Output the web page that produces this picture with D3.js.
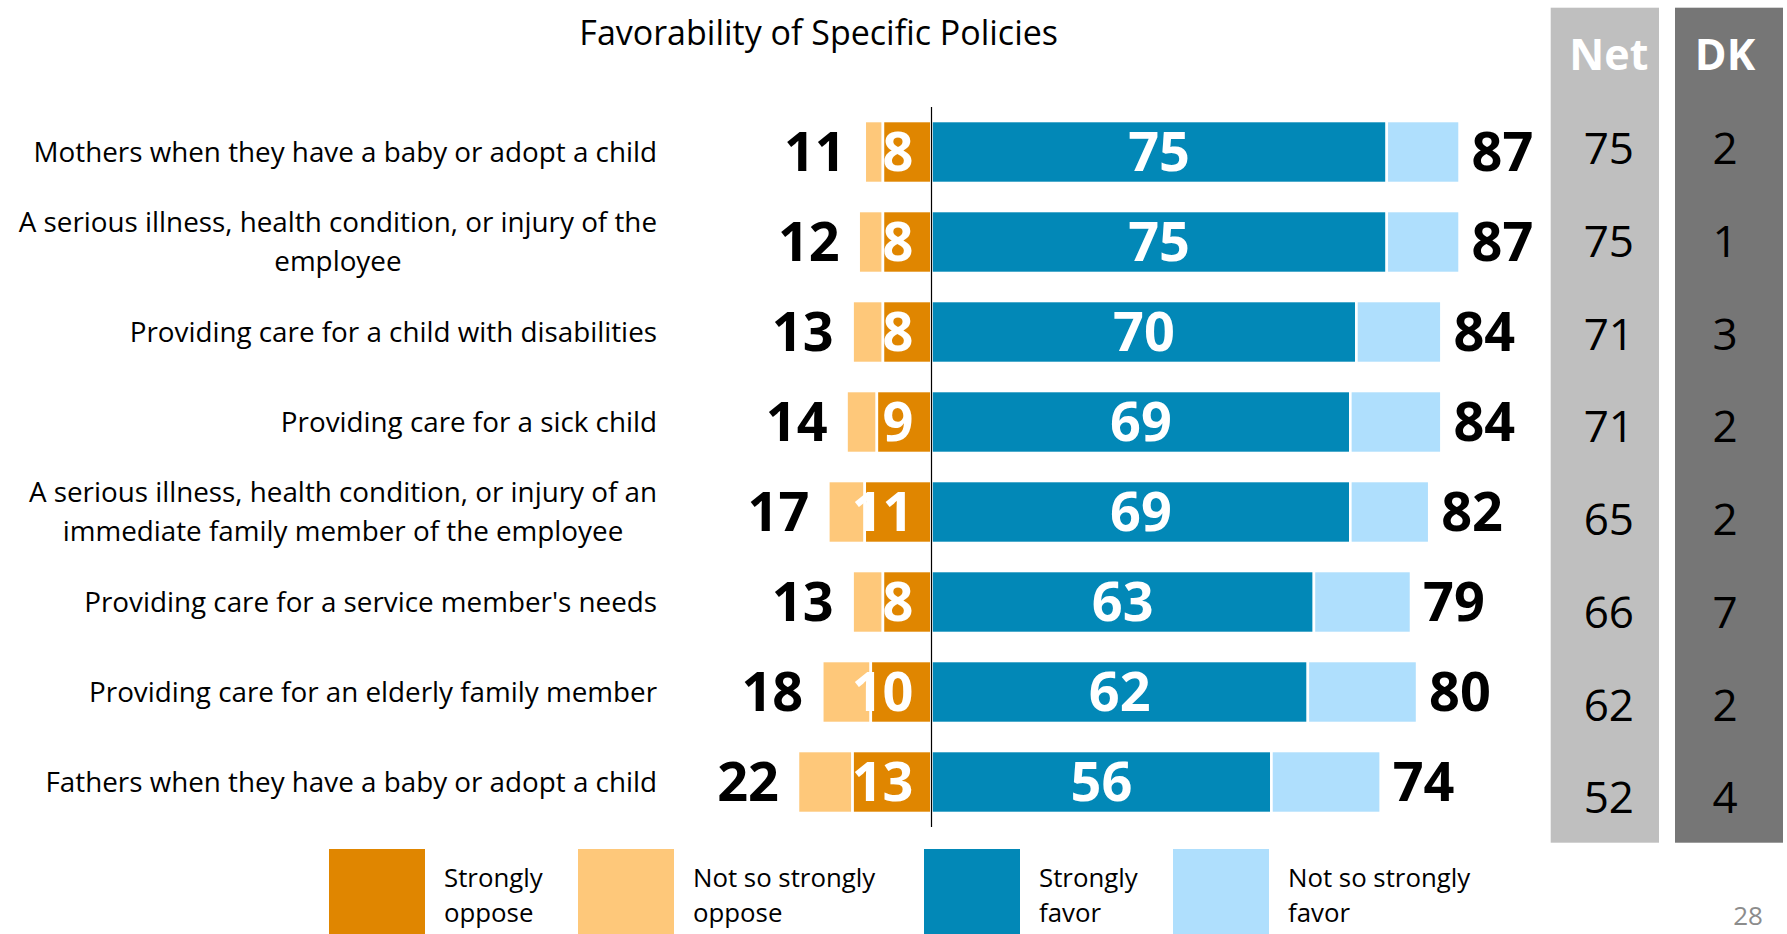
<!DOCTYPE html>
<html>
<head>
<meta charset="utf-8">
<script src="https://cdn.jsdelivr.net/npm/d3@7"></script>
<style>
  body { margin: 0; background: #fff; }
  svg { display: block; }
  text { font-family: "Open Sans", "Noto Sans", sans-serif; }
</style>
</head>
<body>
<svg id="chart" width="1787" height="934"></svg>
<script>
// Survey items (line breaks mark where the label wraps)
const categories = [
  "Mothers when they have a baby or adopt a child",
  "A serious illness, health condition, or injury of the\nemployee",
  "Providing care for a child with disabilities",
  "Providing care for a sick child",
  "A serious illness, health condition, or injury of an\nimmediate family member of the employee",
  "Providing care for a service member's needs",
  "Providing care for an elderly family member",
  "Fathers when they have a baby or adopt a child"
];

// Percentages per item
const stronglyOppose = [8, 8, 8, 9, 11, 8, 10, 13];
const notSoOppose    = [3, 4, 5, 5, 6, 5, 8, 9];
const stronglyFavor  = [75, 75, 70, 69, 69, 63, 62, 56];
const notSoFavor     = [12, 12, 14, 15, 13, 16, 18, 18];
const totalOppose    = [11, 12, 13, 14, 17, 13, 18, 22];
const totalFavor     = [87, 87, 84, 84, 82, 79, 80, 74];
const netValues      = [75, 75, 71, 71, 65, 66, 62, 52];
const dkValues       = [2, 1, 3, 2, 2, 7, 2, 4];

const legendLabels = ["Strongly\noppose", "Not so strongly\noppose", "Strongly\nfavor", "Not so strongly\nfavor"];
const titleText = "Favorability of Specific Policies";
const pageNumber = "28";

const colors = {
  strongOppose: "#E08600",
  softOppose: "#FEC87A",
  strongFavor: "#0288B7",
  softFavor: "#AFDFFD"
};
const legendColors = [colors.strongOppose, colors.softOppose, colors.strongFavor, colors.softFavor];

const svg = d3.select("#chart");

// Scales
const x = d3.scaleLinear().domain([-25, 90]).range([779.75, 1477.8]);
const y = d3.scaleBand().domain(categories).range([107, 827])
  .paddingInner(0.311).paddingOuter(0.1555);
const yTable = d3.scalePoint().domain(categories).range([148.5, 797.5]);

// Title
svg.append("text")
  .attr("x", 818.7).attr("y", 44.5)
  .attr("text-anchor", "middle")
  .attr("font-size", 34)
  .attr("fill", "#000")
  .text(titleText);

// Net / DK columns
const tableCols = [
  { key: "Net", values: netValues, x0: 1550.7, x1: 1659, fill: "#BFBFBF" },
  { key: "DK", values: dkValues, x0: 1675, x1: 1783, fill: "#767676" }
];
tableCols.forEach(col => {
  const cx = (col.x0 + col.x1) / 2;
  svg.append("rect")
    .attr("x", col.x0).attr("y", 7.7)
    .attr("width", col.x1 - col.x0).attr("height", 842.7 - 7.7)
    .attr("fill", col.fill);
  svg.append("text")
    .attr("x", cx + (col.key === "Net" ? 4 : -4)).attr("y", 70)
    .attr("text-anchor", "middle")
    .attr("font-size", 43).attr("font-weight", 700)
    .attr("fill", "#fff")
    .text(col.key);
  svg.selectAll(null).data(col.values).join("text")
    .attr("x", cx + (col.key === "Net" ? 4 : -4))
    .attr("y", (d, i) => yTable(categories[i]))
    .attr("dy", "0.36em")
    .attr("text-anchor", "middle")
    .attr("font-size", 44)
    .attr("fill", "#000")
    .text(d => d);
});

// Category labels: block right-aligned, wrapped lines centred within the block
const labelRight = 657;
const labelSize = 27.8;
const legendSize = 25.8;
const lineGap = 39;
categories.forEach((cat, i) => {
  const lines = cat.split("\n");
  const cy = y(cat) + y.bandwidth() / 2;
  const g = svg.append("g");
  const texts = lines.map((ln, j) => g.append("text")
    .attr("y", cy + 9.6 + (j - (lines.length - 1) / 2) * lineGap)
    .attr("font-size", labelSize)
    .attr("fill", "#000")
    .text(ln));
  const maxW = d3.max(texts, t => t.node().getComputedTextLength());
  texts.forEach(t => t.attr("x", labelRight - maxW / 2).attr("text-anchor", "middle"));
});

// Bars
const rows = categories.map((c, i) => ({
  cat: c,
  so: stronglyOppose[i], nso: notSoOppose[i],
  sf: stronglyFavor[i], nsf: notSoFavor[i],
  to: totalOppose[i], tf: totalFavor[i]
}));

const segs = [];
rows.forEach(r => {
  segs.push({ cat: r.cat, a: -(r.so + r.nso), b: -r.so, fill: colors.softOppose });
  segs.push({ cat: r.cat, a: -r.so, b: 0, fill: colors.strongOppose });
  segs.push({ cat: r.cat, a: 0, b: r.sf, fill: colors.strongFavor });
  segs.push({ cat: r.cat, a: r.sf, b: r.sf + r.nsf, fill: colors.softFavor });
});

svg.append("g").selectAll("rect").data(segs).join("rect")
  .attr("x", d => x(d.a))
  .attr("y", d => y(d.cat))
  .attr("width", d => x(d.b) - x(d.a))
  .attr("height", y.bandwidth())
  .attr("fill", d => d.fill)
  .attr("stroke", "#fff")
  .attr("stroke-width", 2.6);

// Zero line
svg.append("line")
  .attr("x1", x(0)).attr("x2", x(0))
  .attr("y1", 107).attr("y2", 827)
  .attr("stroke", "#000").attr("stroke-width", 1.2);

const numSize = 54;
const lbl = svg.append("g").attr("font-size", numSize).attr("font-weight", 700);

// Values inside bars
lbl.selectAll(".sf").data(rows).join("text")
  .attr("x", d => (x(0) + x(d.sf)) / 2)
  .attr("y", d => y(d.cat) + y.bandwidth() / 2)
  .attr("dy", "0.36em")
  .attr("text-anchor", "middle")
  .attr("fill", "#fff")
  .text(d => d.sf);

lbl.selectAll(".so").data(rows).join("text")
  .attr("x", x(0) - 18)
  .attr("y", d => y(d.cat) + y.bandwidth() / 2)
  .attr("dy", "0.36em")
  .attr("text-anchor", "end")
  .attr("fill", "#fff")
  .text(d => d.so);

// Totals at bar ends
lbl.selectAll(".to").data(rows).join("text")
  .attr("x", d => x(-d.to) - 19)
  .attr("y", d => y(d.cat) + y.bandwidth() / 2)
  .attr("dy", "0.36em")
  .attr("text-anchor", "end")
  .attr("fill", "#000")
  .text(d => d.to);

lbl.selectAll(".tf").data(rows).join("text")
  .attr("x", d => x(d.tf) + 12)
  .attr("y", d => y(d.cat) + y.bandwidth() / 2)
  .attr("dy", "0.36em")
  .attr("text-anchor", "start")
  .attr("fill", "#000")
  .text(d => d.tf);

// Legend
const legendX = [329, 578, 924, 1173];
const leg = svg.append("g");
legendLabels.forEach((lab, i) => {
  leg.append("rect")
    .attr("x", legendX[i]).attr("y", 849)
    .attr("width", 96).attr("height", 90)
    .attr("fill", legendColors[i]);
  lab.split("\n").forEach((ln, j) => {
    leg.append("text")
      .attr("x", legendX[i] + 115)
      .attr("y", 886.7 + j * 35)
      .attr("font-size", legendSize)
      .attr("fill", "#000")
      .text(ln);
  });
});

// Page number
svg.append("text")
  .attr("x", 1748).attr("y", 925)
  .attr("text-anchor", "middle")
  .attr("font-size", 26)
  .attr("fill", "#8C8C8C")
  .text(pageNumber);
</script>
</body>
</html>
